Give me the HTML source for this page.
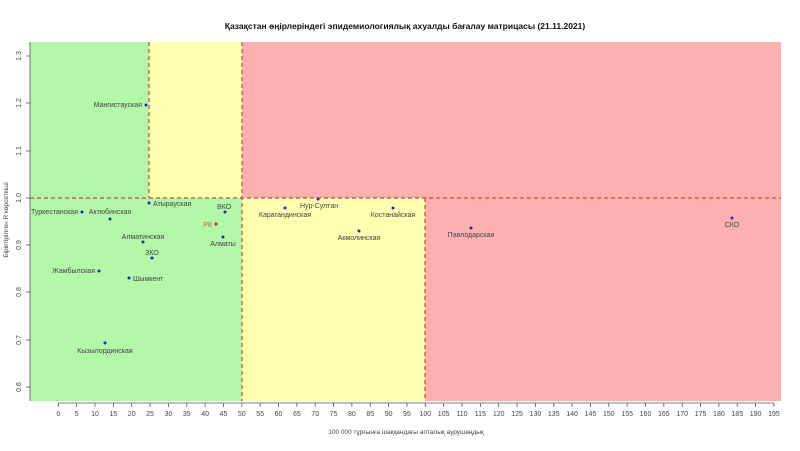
<!DOCTYPE html>
<html><head><meta charset="utf-8"><style>
html,body{margin:0;padding:0;background:#fff}
svg{display:block}
text{font-family:"Liberation Sans",sans-serif;fill:#444}
</style></head><body>
<svg width="800" height="451" viewBox="0 0 800 451" xmlns="http://www.w3.org/2000/svg">
<text x="405" y="29" text-anchor="middle" font-size="8.5" font-weight="bold" style="fill:#111">Қазақстан өңірлеріндегі эпидемиологиялық ахуалды бағалау матрицасы  (21.11.2021)</text>
<!-- regions -->
<rect x="30" y="42" width="751" height="359" fill="#b3f7a8"/>
<rect x="149" y="42" width="93" height="156" fill="#ffffb0"/>
<rect x="242" y="42" width="539" height="156" fill="#fdb0b0"/>
<rect x="242" y="198" width="183" height="203" fill="#ffffb0"/>
<rect x="425" y="198" width="356" height="203" fill="#fdb0b0"/>
<g stroke="#b5523a" stroke-width="1.2" stroke-dasharray="4,3" fill="none">
<line x1="30" y1="198" x2="781" y2="198"/>
<line x1="149" y1="42" x2="149" y2="198"/>
<line x1="242" y1="42" x2="242" y2="401"/>
<line x1="425" y1="198" x2="425" y2="401"/>
</g>
<!-- y axis -->
<g stroke="#555" stroke-width="0.8">
<line x1="30" y1="42" x2="30" y2="401"/>
<line x1="26" y1="56" x2="30" y2="56"/><line x1="26" y1="103" x2="30" y2="103"/><line x1="26" y1="151" x2="30" y2="151"/><line x1="26" y1="198" x2="30" y2="198"/><line x1="26" y1="245" x2="30" y2="245"/><line x1="26" y1="292" x2="30" y2="292"/><line x1="26" y1="340" x2="30" y2="340"/><line x1="26" y1="387" x2="30" y2="387"/>
</g>
<g font-size="7" text-anchor="middle">
<text transform="translate(21,56) rotate(-90)">1.3</text>
<text transform="translate(21,103) rotate(-90)">1.2</text>
<text transform="translate(21,151) rotate(-90)">1.1</text>
<text transform="translate(21,198) rotate(-90)">1.0</text>
<text transform="translate(21,245) rotate(-90)">0.9</text>
<text transform="translate(21,292) rotate(-90)">0.8</text>
<text transform="translate(21,340) rotate(-90)">0.7</text>
<text transform="translate(21,387) rotate(-90)">0.6</text>
<text transform="translate(8,220) rotate(-90)" font-size="6.5">Біріктірілген R көрсеткіші</text>
</g>
<!-- x axis -->
<g id="xt" stroke="#555" stroke-width="0.8"></g>
<g id="xl" font-size="7" text-anchor="middle"></g>
<text x="406" y="434" font-size="6.5" text-anchor="middle">100 000 тұрғынға шаққандағы апталық аурушаңдық</text>
<!-- points -->
<g fill="#1a2fa8">
<circle cx="146" cy="105" r="1.5"/>
<circle cx="82" cy="212" r="1.5"/>
<circle cx="110" cy="219" r="1.5"/>
<circle cx="149" cy="203" r="1.5"/>
<circle cx="225" cy="212" r="1.5"/>
<circle cx="223" cy="237" r="1.5"/>
<circle cx="143" cy="242" r="1.5"/>
<circle cx="152" cy="258" r="1.5"/>
<circle cx="99" cy="271" r="1.5"/>
<circle cx="129" cy="278" r="1.5"/>
<circle cx="105" cy="343" r="1.5"/>
<circle cx="285" cy="208" r="1.5"/>
<circle cx="318" cy="199" r="1.5"/>
<circle cx="393" cy="208" r="1.5"/>
<circle cx="359" cy="231" r="1.5"/>
<circle cx="471" cy="228" r="1.5"/>
<circle cx="732" cy="218" r="1.5"/>
</g>
<circle cx="216" cy="224" r="1.6" fill="#c0392b"/>
<g font-size="7">
<text x="142" y="107" text-anchor="end">Мангистауская</text>
<text x="78" y="214" text-anchor="end">Туркестанская</text>
<text x="110" y="214" text-anchor="middle">Актюбинская</text>
<text x="153" y="206">Атырауская</text>
<text x="224" y="209" text-anchor="middle">ВКО</text>
<text x="212" y="227" text-anchor="end" style="fill:#c0602b">РК</text>
<text x="223" y="246" text-anchor="middle">Алматы</text>
<text x="143" y="239" text-anchor="middle">Алматинская</text>
<text x="152" y="255" text-anchor="middle">ЗКО</text>
<text x="95" y="273" text-anchor="end">Жамбылская</text>
<text x="133" y="281">Шымкент</text>
<text x="105" y="353" text-anchor="middle">Кызылординская</text>
<text x="285" y="217" text-anchor="middle">Карагандинская</text>
<text x="300" y="208">Нур-Султан</text>
<text x="393" y="217" text-anchor="middle">Костанайская</text>
<text x="359" y="240" text-anchor="middle">Акмолинская</text>
<text x="471" y="237" text-anchor="middle">Павлодарская</text>
<text x="732" y="227" text-anchor="middle">СКО</text>
</g>
<script>
var t=document.getElementById('xt'),l=document.getElementById('xl'),ns='http://www.w3.org/2000/svg';
for(var v=0;v<=195;v+=5){var x=58.3+3.67*v;
var ln=document.createElementNS(ns,'line');ln.setAttribute('x1',x);ln.setAttribute('x2',x);ln.setAttribute('y1',403);ln.setAttribute('y2',407);t.appendChild(ln);
var tx=document.createElementNS(ns,'text');tx.setAttribute('x',x);tx.setAttribute('y',416);tx.textContent=v;l.appendChild(tx);}
var b=document.createElementNS(ns,'line');b.setAttribute('x1',58.3);b.setAttribute('x2',58.3+3.67*195);b.setAttribute('y1',403);b.setAttribute('y2',403);t.appendChild(b);
</script>
</svg>
</body></html>
